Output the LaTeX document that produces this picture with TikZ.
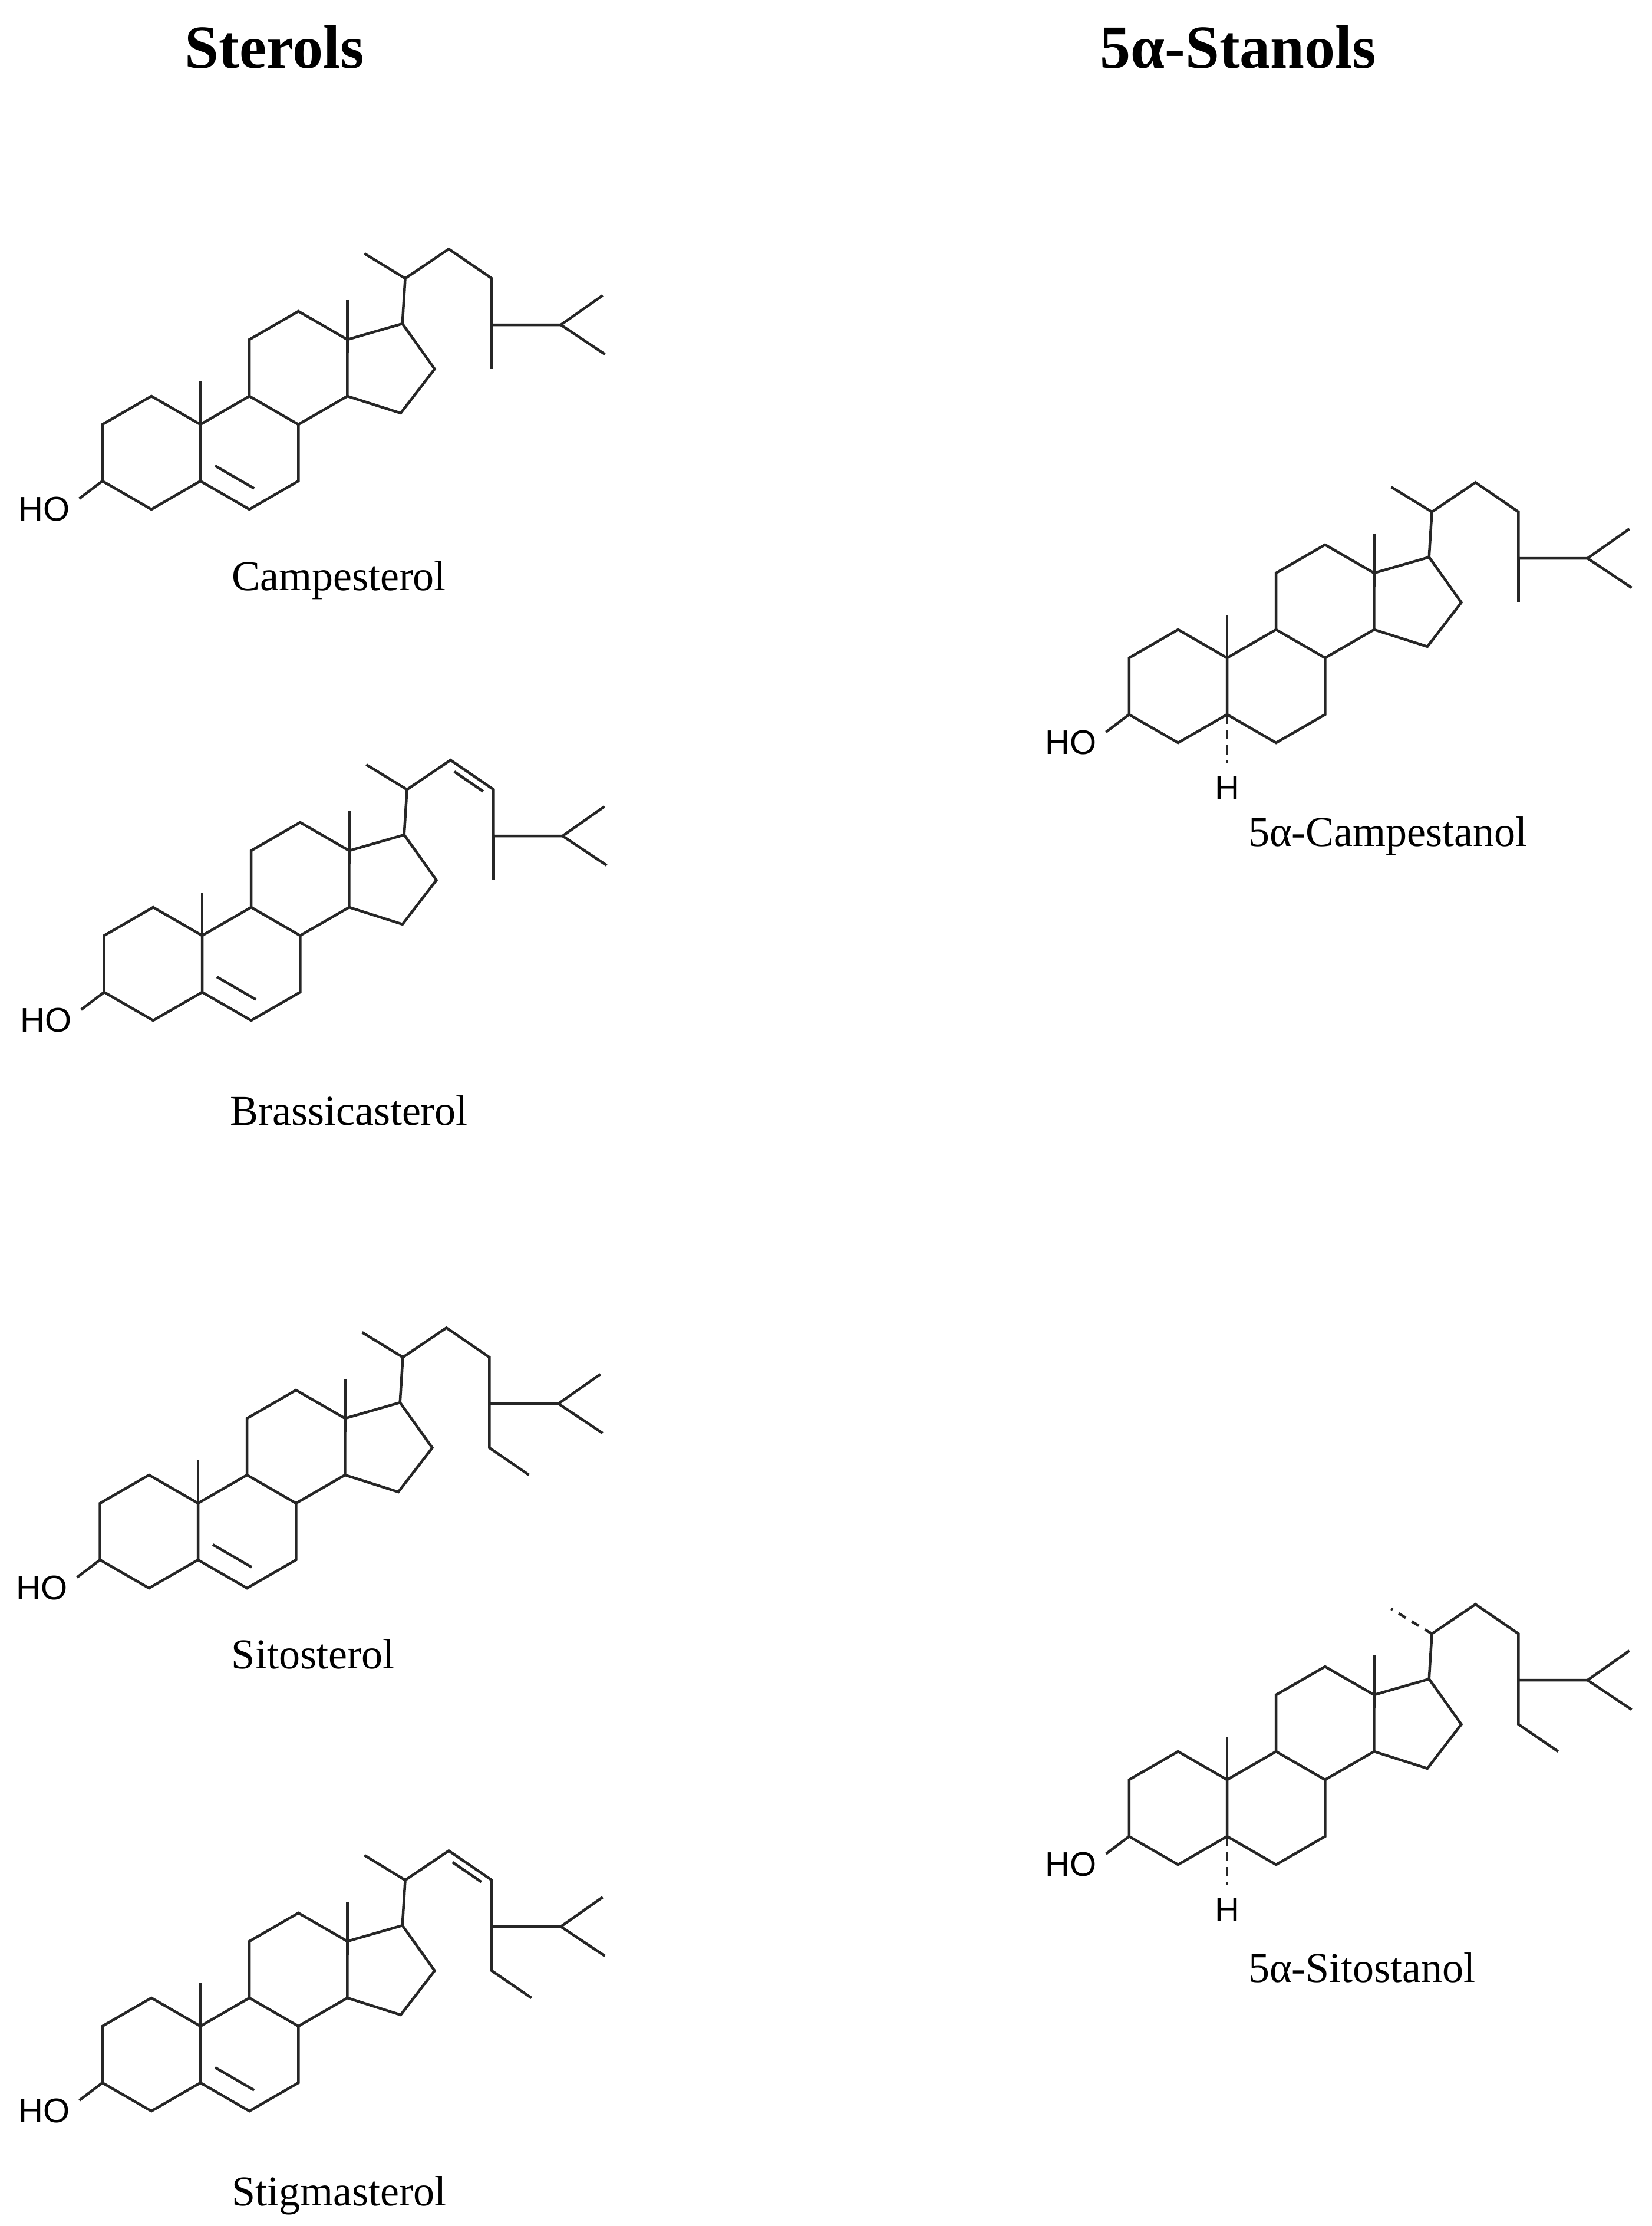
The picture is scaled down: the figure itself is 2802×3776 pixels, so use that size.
\documentclass[tikz,border=0pt]{standalone}
\usepackage{fontspec}
\setmainfont{Liberation Serif}
\newfontfamily\atomfont{Liberation Sans}
\usetikzlibrary{calc}
\tikzset{bond/.style={line width=4.5pt,draw=black!85,line join=miter,line cap=butt},
 atom/.style={font=\atomfont\fontsize{58}{60}\selectfont,inner sep=0pt},
 molname/.style={font=\fontsize{72}{80}\selectfont,inner sep=0pt},
 heading/.style={font=\bfseries\fontsize{104}{110}\selectfont,inner sep=0pt}}
\newcommand\skel{%
 \coordinate (c1) at (-0.866,0.5); \coordinate (c2) at (-1.732,0);
 \coordinate (c3) at (-1.732,-1); \coordinate (c4) at (-0.866,-1.5);
 \coordinate (c5) at (0,-1); \coordinate (c6) at (0.866,-1.5);
 \coordinate (c7) at (1.732,-1); \coordinate (c8) at (1.732,0);
 \coordinate (c9) at (0.866,0.5); \coordinate (c10) at (0,0);
 \coordinate (c11) at (0.866,1.5); \coordinate (c12) at (1.732,2);
 \coordinate (c13) at (2.598,1.5); \coordinate (c14) at (2.598,0.5);
 \coordinate (c15) at (3.54,0.2); \coordinate (c16) at (4.14,0.98);
 \coordinate (c17) at (3.57,1.78); \coordinate (c20) at (3.62,2.58);
 \coordinate (c21) at (2.9,3.02); \coordinate (c22) at (4.39,3.1);
 \coordinate (c23) at (5.15,2.58); \coordinate (c24) at (5.15,1.76);
 \coordinate (c25) at (6.37,1.76); \coordinate (c26) at (7.11,2.28);
 \coordinate (c27) at (7.15,1.24); \coordinate (c28) at (5.15,0.98);
 \coordinate (c29) at (5.85,0.5); \coordinate (c18) at (2.598,2.2);
 \coordinate (c18b) at (2.598,1.26); \coordinate (c19) at (0,0.76);
 \coordinate (oh) at (-2.14,-1.31);
 \draw[bond] (c1)--(c2)--(c3)--(c4)--(c5)--(c10)--cycle;
 \draw[bond] (c10)--(c9)--(c8)--(c7)--(c6)--(c5);
 \draw[bond] (c9)--(c11)--(c12)--(c13)--(c14)--(c8);
 \draw[bond] (c13)--(c17)--(c16)--(c15)--(c14);
 \draw[bond] (c18)--(c18b); \draw[bond] (c19)--(c10);
 \draw[bond] (c3)--(oh);
 \node[atom] (hotext) at (-2.76,-1.49) {HO};
 \draw[bond] (c17)--(c20)--(c22)--(c23)--(c24)--(c25)--(c26);
 \draw[bond] (c25)--(c27);
}
\newcommand\eneBond{\draw[bond] (0.26,-0.73)--(0.95,-1.13);}
\newcommand\dblTwoTwo{\draw[bond] ($(c22)!0.18!(c23)+(-0.07,-0.11)$)--($(c22)!0.85!(c23)+(-0.07,-0.11)$);}
\newcommand\methylDown{\draw[bond] (c24)--(c28);}
\newcommand\ethylDown{\draw[bond] (c24)--(c28)--(c29);}
\newcommand\solidTwoOne{\draw[bond] (c20)--(c21);}
\newcommand\alphaH{\draw[bond,dash pattern=on 16pt off 10pt] (c5)--(0,-1.85); \node[atom] (hatom) at (0,-2.3) {H};}
\begin{document}
\begin{tikzpicture}[x=1pt,y=1pt]
\useasboundingbox (0,0) rectangle (2802,-3776);
\node[heading] (t1) at (466,-80) {Sterols};
\node[heading] (t2) at (2101,-80) {5α-Stanols};
% Campesterol
\begin{scope}[shift={(340,-720)},x=96pt,y=96pt]
 \skel \eneBond \methylDown \solidTwoOne
\end{scope}
\node[molname] (n1) at (575,-984) {Campesterol};
% Brassicasterol
\begin{scope}[shift={(343,-1587)},x=96pt,y=96pt]
 \skel \eneBond \methylDown \solidTwoOne \dblTwoTwo
\end{scope}
\node[molname] (n2) at (592,-1884) {Brassicasterol};
% Sitosterol
\begin{scope}[shift={(336,-2550)},x=96pt,y=96pt]
 \skel \eneBond \ethylDown \solidTwoOne
\end{scope}
\node[molname] (n3) at (531,-2806) {Sitosterol};
% Stigmasterol
\begin{scope}[shift={(340,-3437)},x=96pt,y=96pt]
 \skel \eneBond \ethylDown \solidTwoOne \dblTwoTwo
\end{scope}
\node[molname] (n4) at (575,-3724) {Stigmasterol};
% Campestanol
\begin{scope}[shift={(2082,-1116)},x=96pt,y=96pt]
 \skel \methylDown \solidTwoOne \alphaH
\end{scope}
\node[molname] (n5) at (2355,-1418) {5α-Campestanol};
% Sitostanol
\begin{scope}[shift={(2082,-3019)},x=96pt,y=96pt]
 \skel \ethylDown \alphaH
 \draw[bond,dash pattern=on 14pt off 12pt] (c20)--(c21);
\end{scope}
\node[molname] (n6) at (2311,-3338) {5α-Sitostanol};
\end{tikzpicture}
\end{document}
